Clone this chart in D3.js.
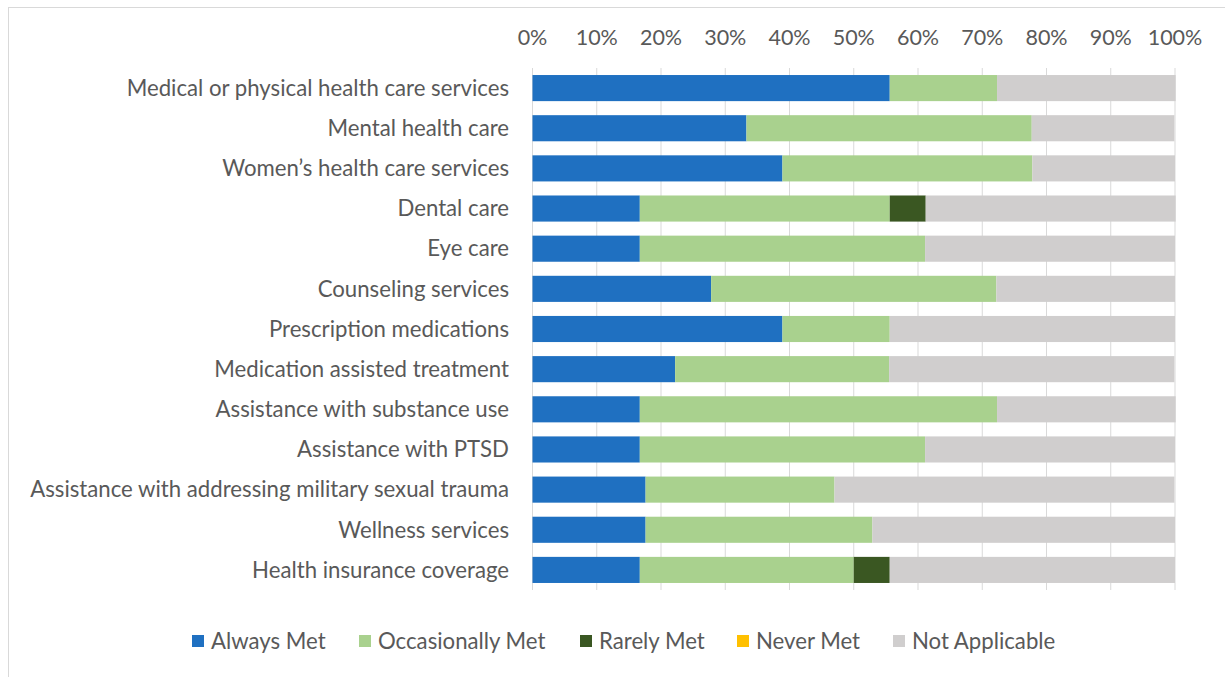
<!DOCTYPE html>
<html><head><meta charset="utf-8">
<script src="https://cdn.jsdelivr.net/npm/d3@7/dist/d3.min.js"></script>
<style>body{margin:0;background:#fff}svg{display:block}text{font-family:Lato,"Open Sans",sans-serif}</style>
</head><body>
<svg id="c" width="1225" height="677"></svg>
<script>
const categories = ["Medical or physical health care services","Mental health care","Women\u2019s health care services","Dental care","Eye care","Counseling services","Prescription medications","Medication assisted treatment","Assistance with substance use","Assistance with PTSD","Assistance with addressing military sexual trauma","Wellness services","Health insurance coverage"];
const seriesNames = ["Always Met","Occasionally Met","Rarely Met","Never Met","Not Applicable"];
const alwaysMet =      [55.6,33.3,38.9,16.7,16.7,27.8,38.9,22.2,16.7,16.7,17.6,17.6,16.7];
const occasionallyMet =[16.7,44.4,38.9,38.9,44.4,44.4,16.7,33.3,55.6,44.4,29.4,35.3,33.3];
const rarelyMet =      [0,0,0,5.6,0,0,0,0,0,0,0,0,5.6];
const neverMet =       [0,0,0,0,0,0,0,0,0,0,0,0,0];
const notApplicable =  [27.8,22.2,22.2,38.9,38.9,27.8,44.4,44.4,27.8,38.9,52.9,47.1,44.4];
const tickValues = [0,10,20,30,40,50,60,70,80,90,100];
const colors = ["#1F70C1","#A9D18E","#3A5722","#FFC000","#D0CECE"];

const svg = d3.select("#c");
svg.append("rect").attr("x",8.5).attr("y",7.5).attr("width",1240).attr("height",700)
  .attr("fill","#fff").attr("stroke","#d9d9d9").attr("stroke-width",1);

const x = d3.scaleLinear().domain([0,100]).range([532.5,1175]);
const y = d3.scaleBand().domain(categories).range([68,590]).paddingInner(0.35).paddingOuter(0.175);

svg.append("g").selectAll("line").data(tickValues).join("line")
  .attr("x1",d=>x(d)).attr("x2",d=>x(d)).attr("y1",68).attr("y2",590)
  .attr("stroke","#d9d9d9").attr("stroke-width",1);

svg.append("g").selectAll("text").data(tickValues).join("text")
  .attr("x",d=>x(d)).attr("y",45).attr("text-anchor","middle")
  .attr("font-size",21.5).attr("fill","#595959").text(d=>d+"%");

const rows = categories.map((c,i)=>({cat:c, Always:alwaysMet[i], Occ:occasionallyMet[i], Rare:rarelyMet[i], Never:neverMet[i], NA:notApplicable[i]}));
const keys = ["Always","Occ","Rare","Never","NA"];
const stack = d3.stack().keys(keys)(rows);

svg.append("g").selectAll("g").data(stack).join("g").attr("fill",(d,i)=>colors[i])
  .selectAll("rect").data(d=>d).join("rect")
  .attr("x",d=>x(d[0])).attr("width",d=>Math.max(0,x(d[1])-x(d[0])))
  .attr("y",d=>y(d.data.cat)).attr("height",y.bandwidth());

svg.append("g").selectAll("text").data(categories).join("text")
  .attr("x",509).attr("y",d=>y(d)+y.bandwidth()/2).attr("dy","0.35em")
  .attr("text-anchor","end").attr("font-size",22.2).attr("fill","#595959").text(d=>d);

const legX = [192,359,580,737,893];
const leg = svg.append("g").selectAll("g").data(seriesNames).join("g")
  .attr("transform",(d,i)=>`translate(${legX[i]},641)`);
leg.append("rect").attr("x",0).attr("y",-6).attr("width",12).attr("height",12).attr("fill",(d,i)=>colors[i]);
leg.append("text").attr("x",19).attr("y",0).attr("dy","0.35em").attr("font-size",22.2).attr("fill","#595959").text(d=>d);
</script>
</body></html>
